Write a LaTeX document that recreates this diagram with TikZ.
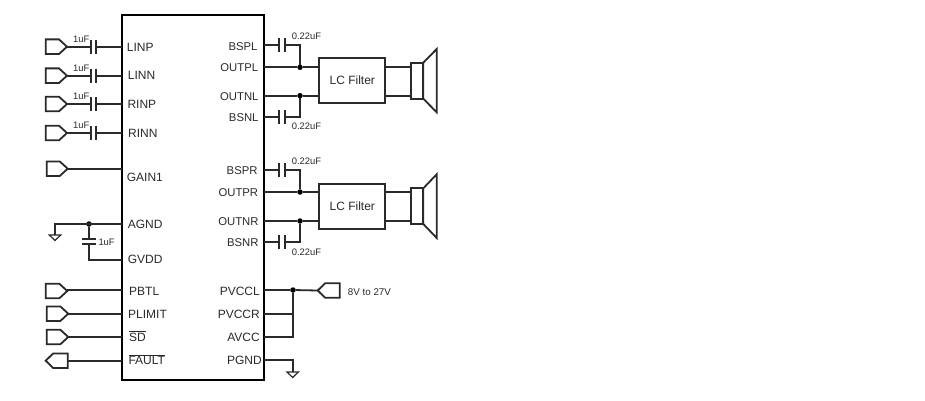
\documentclass[tikz,border=0pt]{standalone}
\usepackage{fontspec}
\setmainfont{Liberation Sans}
\usetikzlibrary{calc}
\definecolor{ink}{HTML}{2A2A2A}
\newcommand\ovl[1]{$\overline{\mbox{#1}}$}
\tikzset{
  wire/.style={draw=ink,line width=1.8pt,line join=miter},
  outline/.style={draw=ink,line width=1.8pt,fill=white,line join=miter},
  chipbox/.style={draw=black,line width=2.2pt,fill=white,inner sep=0pt,outer sep=0pt,minimum width=142pt,minimum height=365pt},
  filterbox/.style={draw=ink,line width=1.8pt,fill=white,inner sep=0pt,outer sep=0pt,minimum width=66pt,minimum height=45pt,text=ink,font=\fontsize{12}{14}\selectfont},
  pinl/.style={anchor=west,inner sep=0pt,text=ink,text height=8.6pt,text depth=0pt,font=\fontsize{12}{14}\selectfont},
  pinr/.style={pinl,anchor=east},
  pinq/.style={pinr,font=\fontsize{11.3}{14}\selectfont},
  small/.style={inner sep=0pt,text=ink,font=\fontsize{9.4}{11}\selectfont},
  jn/.style={circle,fill=black,inner sep=0pt,outer sep=0pt,minimum size=5.5pt},
}
% right-pointing input flag: name, left x, tip x, y
\newcommand\flagin[4]{%
  \coordinate (#1) at (#3,#4);
  \draw[outline] (#2,#4-7.3) -- (#3-8,#4-7.3) -- (#1) -- (#3-8,#4+7.3) -- (#2,#4+7.3) -- cycle;}
% left-pointing flag: name, tip x, right x, y
\newcommand\flagout[4]{%
  \coordinate (#1) at (#3,#4);
  \draw[outline] (#2,#4) -- (#2+7.5,#4-7.3) -- (#3,#4-7.3) -- (#3,#4+7.3) -- (#2+7.5,#4+7.3) -- cycle;}
% horizontal capacitor: name, plate1 x, plate2 x, y
\newcommand\hcap[4]{%
  \coordinate (#1a) at (#2,#4);
  \coordinate (#1b) at (#3,#4);
  \draw[wire] (#2,#4-7) -- (#2,#4+7);
  \draw[wire] (#3,#4-7) -- (#3,#4+7);}
% ground: name (top of the symbol), x, y
\newcommand\gnd[3]{%
  \coordinate (#1) at (#2,#3);
  \draw[outline,line width=1.2pt] (#1) ++(-5.7,0) -- ++(11.4,0) -- (#2,#3+5.5) -- cycle;}
% speaker: name, y top of magnet, y bottom of magnet, cone top, cone bottom
\newcommand\speaker[5]{%
  \draw[outline] (423.3,#2) -- (436.7,#4) -- (436.7,#5) -- (423.3,#3) -- cycle;
  \node[draw=ink,line width=1.8pt,fill=white,inner sep=0pt,outer sep=0pt,minimum width=12.6pt,minimum height=#3pt-#2pt] (#1) at (417,{(#2+#3)/2}) {};}
\begin{document}
\begin{tikzpicture}[x=1pt,y=-1pt]
\useasboundingbox (0,0) rectangle (925,401);
\fill[white] (0,0) rectangle (925,401);

% chip
\node[chipbox] (chip) at (193,197.5) {};

% left pin labels
\foreach \n/\lx/\ly/\t in {LINP/126.7/47.3/LINP,LINN/127.7/75.7/LINN,RINP/127.3/104/RINP,RINN/128/133/RINN,GAIN/126.7/177/GAIN1,AGND/127.7/224/AGND,GVDD/127.7/259/GVDD,PBTL/129/291.3/PBTL,PLIMIT/128/313.7/PLIMIT}
  \node[pinl] (l\n) at (\lx,\ly) {\t};
\node[pinl] (lSD) at (129,337) {\ovl{SD}};
\node[pinl] (lFAULT) at (128.3,360.3) {\ovl{FAULT}};

% right pin labels
\foreach \n/\lx/\ly/\t in {BSPL/257.7/46/BSPL,OUTPL/258.3/67/OUTPL,OUTNL/258.7/96/OUTNL,BSNL/258.7/117.3/BSNL,BSPR/257.7/170.5/BSPR,OUTPR/258.3/192/OUTPR,OUTNR/258.7/221/OUTNR,BSNR/258.7/242.3/BSNR}
  \node[pinq] (l\n) at (\lx,\ly) {\t};
\foreach \n/\lx/\ly/\t in {PVCCL/260/291/PVCCL,PVCCR/260/314/PVCCR,AVCC/260/337.3/AVCC,PGND/262/360/PGND}
  \node[pinr] (l\n) at (\lx,\ly) {\t};

% pin points on the chip
\foreach \n/\y in {LINP/46.7,LINN/75.7,RINP/104,RINN/133,GAIN/168.7,AGND/224,GVDD/260,PBTL/290.3,PLIMIT/313.7,SD/337,FAULT/360.7}
  \coordinate (p\n) at (chip.west |- 0,\y);
\foreach \n/\y in {BSPL/45.3,OUTPL/67.3,OUTNL/95.7,BSNL/117.3,BSPR/170.3,OUTPR/192,OUTNR/221,BSNR/242.3,PVCCL/290,PVCCR/314,AVCC/337.3,PGND/360}
  \coordinate (p\n) at (chip.east |- 0,\y);

% audio inputs with coupling capacitors
\foreach \n/\y in {LINP/46.7,LINN/75.7,RINP/104,RINN/133}{
  \flagin{f\n}{45.7}{67}{\y}
  \hcap{c\n}{91}{96.3}{\y}
  \draw[wire] (f\n) -- (c\n a);
  \draw[wire] (c\n b) -- (p\n);
  \node[small] (t\n) at (81.3,\y-7.7) {1uF};
}

% GAIN1, PBTL, PLIMIT, SD, FAULT
\flagin{fGAIN}{46.7}{67.7}{168.7}
\draw[wire] (fGAIN) -- (pGAIN);
\flagin{fPBTL}{45.7}{67.3}{291}
\draw[wire] (fPBTL |- pPBTL) -- (pPBTL);
\flagin{fPLIMIT}{46.7}{68.3}{313.7}
\draw[wire] (fPLIMIT) -- (pPLIMIT);
\flagin{fSD}{46.7}{68.3}{337}
\draw[wire] (fSD) -- (pSD);
\flagout{fFAULT}{45.7}{67.7}{360.7}
\draw[wire] (fFAULT) -- (pFAULT);

% AGND / GVDD
\node[jn] (jAG) at (89,224) {};
\coordinate (gTurn) at (55,224);
\gnd{gA}{55}{235}
\draw[wire] (pAGND) -- (gTurn) -- (gA);
\coordinate (cGa) at (89,239.3);
\coordinate (cGb) at (89,244);
\coordinate (cGc) at (89,260);
\draw[wire] (82.3,239.3) -- (95.7,239.3);
\draw[wire] (82.3,244) -- (95.7,244);
\draw[wire] (jAG) -- (cGa);
\draw[wire] (cGb) -- (cGc) -- (pGVDD);
\node[small,anchor=west] (tG) at (98.3,242) {1uF};

% outputs: left channel
\foreach \n/\y/\lab/\labb in {BSPL/45.3/x/36.7,BSNL/117.3/x/126,BSPR/170.3/x/161.3,BSNR/242.3/x/252.7}{
  \hcap{c\n}{279.3}{285}{\y}
  \draw[wire] (p\n) -- (c\n a);
  \node[small,anchor=west] (t\n) at (291.7,\labb) {0.22uF};
}
\node[filterbox] (fL) at (352.3,80.5) {LC Filter};
\node[filterbox] (fR) at (352.3,206.3) {LC Filter};
\speaker{spL}{62.7}{98.7}{49}{112.3}
\speaker{spR}{188.3}{224}{174.3}{238}

\node[jn] (jOPL) at (300,67.3) {};
\node[jn] (jONL) at (300,95.7) {};
\node[jn] (jOPR) at (300,192) {};
\node[jn] (jONR) at (300,221) {};

\draw[wire] (cBSPLb) -- (jOPL |- cBSPLb) -- (jOPL);
\draw[wire] (cBSNLb) -- (jONL |- cBSNLb) -- (jONL);
\draw[wire] (cBSPRb) -- (jOPR |- cBSPRb) -- (jOPR);
\draw[wire] (cBSNRb) -- (jONR |- cBSNRb) -- (jONR);

\draw[wire] (pOUTPL) -- (jOPL) -- (fL.west |- jOPL);
\draw[wire] (pOUTNL) -- (jONL) -- (fL.west |- jONL);
\draw[wire] (pOUTPR) -- (jOPR) -- (fR.west |- jOPR);
\draw[wire] (pOUTNR) -- (jONR) -- (fR.west |- jONR);
\draw[wire] (fL.east |- jOPL) -- (spL.west |- jOPL);
\draw[wire] (fL.east |- jONL) -- (spL.west |- jONL);
\draw[wire] (fR.east |- jOPR) -- (spR.west |- jOPR);
\draw[wire] (fR.east |- jONR) -- (spR.west |- jONR);

% supply
\node[jn] (jV) at (293,290) {};
\flagout{fV}{317.7}{339.7}{290.5}
\draw[wire] (pPVCCL) -- (jV) -- (fV -| 317.7,0);
\coordinate (vBot) at (293,337.3);
\draw[wire] (jV) -- (vBot) -- (pAVCC);
\draw[wire] (pPVCCR) -- (vBot |- pPVCCR);
\node[small,anchor=west,font=\fontsize{9.8}{11}\selectfont] (tV) at (347.7,291.7) {8V to 27V};

% PGND
\gnd{gP}{292.7}{372}
\draw[wire] (pPGND) -- (gP |- pPGND) -- (gP);
\end{tikzpicture}
\end{document}
